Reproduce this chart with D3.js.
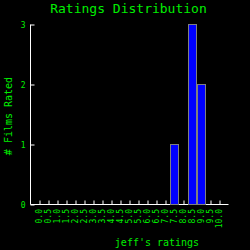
<!DOCTYPE html>
<html><head><meta charset="utf-8">
<script src="https://cdn.jsdelivr.net/npm/d3@7"></script>
<style>html,body{margin:0;padding:0;background:#000;}svg{display:block;}</style>
</head><body>
<script>
const categories = ["0.0","0.5","1.0","1.5","2.0","2.5","3.0","3.5","4.0","4.5","5.0","5.5","6.0","6.5","7.0","7.5","8.0","8.5","9.0","9.5","10.0"];
const counts =     [0,0,0,0,0,0,0,0,0,0,0,0,0,0,0,1,0,3,2,0,0];
const yTicks = [0,1,2,3];
const title = "Ratings Distribution";
const xTitle = "jeff's ratings";
const yTitle = "# Films Rated";

const W = 250, H = 250;
const green = "#00ee00";
const font = "'DejaVu Sans Mono', monospace";
const svg = d3.select("body").append("svg").attr("width", W).attr("height", H)
  .style("background", "#000");

const x = d3.scalePoint().domain(categories).range([30.5, 228.5]).padding(1);
const y = d3.scaleLinear().domain([0, 3]).range([204.5, 24.5]);

// x axis
const xa = svg.append("g").attr("transform", "translate(0,204)")
  .call(d3.axisTop(x).tickSize(4).tickFormat(""));
xa.select(".domain").attr("stroke", "#fff").attr("d", "M30.5,0.5H228.5");
xa.selectAll(".tick line").attr("stroke", "#fff").attr("transform", "translate(0,0.5)");

// y axis
const ya = svg.append("g").attr("transform", "translate(30,0)")
  .call(d3.axisRight(y).tickValues(yTicks).tickSize(4).tickFormat(""));
ya.select(".domain").attr("stroke", "#fff").attr("d", "M0.5,24.5V204.5");
ya.selectAll(".tick line").attr("stroke", "#fff").attr("transform", "translate(0.5,0)");

// bars
const bw = 8;
svg.selectAll("rect.bar").data(categories.map((c, i) => ({c, v: counts[i]})).filter(d => d.v > 0))
  .enter().append("rect").attr("class", "bar")
  .attr("x", d => x(d.c) - bw / 2)
  .attr("y", d => y(d.v))
  .attr("width", bw)
  .attr("height", d => y(0) - y(d.v))
  .attr("fill", "#0000ff")
  .attr("stroke", "#808080")
  .attr("stroke-width", 1);

// y tick labels
svg.selectAll("text.yl").data(yTicks).enter().append("text")
  .attr("x", 25.5).attr("y", d => y(d) + 3)
  .attr("text-anchor", "end").attr("fill", green)
  .style("font-family", font).style("font-size", "8px")
  .text(d => d);

// x tick labels
svg.selectAll("text.xl").data(categories).enter().append("text")
  .attr("transform", d => `translate(${x(d) + 2.5},209) rotate(-90)`)
  .attr("text-anchor", "end").attr("fill", green)
  .style("font-family", font).style("font-size", "8px")
  .text(d => d);

// titles
svg.append("text").attr("x", 128.5).attr("y", 12.5).attr("text-anchor", "middle")
  .attr("fill", green).style("font-family", font).style("font-size", "13px").text(title);
svg.append("text").attr("x", 157).attr("y", 246).attr("text-anchor", "middle")
  .attr("fill", green).style("font-family", font).style("font-size", "10px").text(xTitle);
svg.append("text").attr("transform", "translate(11.5,116) rotate(-90)").attr("text-anchor", "middle")
  .attr("fill", green).style("font-family", font).style("font-size", "10px").text(yTitle);
</script>
</body></html>
